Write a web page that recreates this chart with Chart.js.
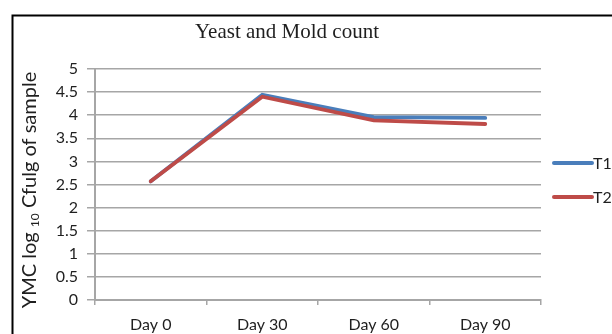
<!DOCTYPE html>
<html>
<head>
<meta charset="utf-8">
<script src="https://cdn.jsdelivr.net/npm/chart.js@4"></script>
<style>
  html, body { margin: 0; padding: 0; background: #fff; }
  #wrap { width: 612px; height: 334px; position: relative; }
</style>
</head>
<body>
<div id="wrap"><canvas id="chart" width="612" height="334"></canvas></div>
<script>
// data
const days = ["Day 0", "Day 30", "Day 60", "Day 90"];
const t1Values = [2.57, 4.44, 3.96, 3.94];
const t2Values = [2.57, 4.40, 3.89, 3.81];
const seriesNames = ["T1", "T2"];
const chartTitle = "Yeast and Mold count";

const FONT = "Lato, 'Open Sans', sans-serif";
const GRID = "#a6a6a6";
const TEXT = "#1f1f1f";

// frame, title, y title and legend are drawn by hand
const extras = {
  id: "extras",
  afterDraw(chart) {
    const ctx = chart.ctx;
    ctx.save();

    // outer frame (only top and left visible in the crop)
    ctx.strokeStyle = "#000";
    ctx.lineWidth = 2;
    ctx.beginPath();
    ctx.moveTo(12.5, 334);
    ctx.lineTo(12.5, 15.5);
    ctx.lineTo(612, 15.5);
    ctx.stroke();

    // title
    ctx.fillStyle = TEXT;
    ctx.font = "21px 'Liberation Serif', serif";
    ctx.textAlign = "center";
    ctx.textBaseline = "middle";
    ctx.fillText(chartTitle, 287, 32);

    // y axis title with subscript
    ctx.translate(30, 190);
    ctx.rotate(-Math.PI / 2);
    const big = "20px " + FONT;
    const small = "12px " + FONT;
    const parts = [["YMC log ", big, 0], ["10", small, 5], [" Cfulg of sample", big, 0]];
    let total = 0;
    parts.forEach(p => { ctx.font = p[1]; total += ctx.measureText(p[0]).width; });
    let x = -total / 2;
    ctx.textAlign = "left";
    parts.forEach(p => {
      ctx.font = p[1];
      ctx.fillText(p[0], x, p[2]);
      x += ctx.measureText(p[0]).width;
    });
    ctx.setTransform(1, 0, 0, 1, 0, 0);

    // legend
    const ys = [163, 197];
    chart.data.datasets.forEach((ds, i) => {
      ctx.strokeStyle = ds.borderColor;
      ctx.lineWidth = 4;
      ctx.lineCap = "round";
      ctx.beginPath();
      ctx.moveTo(554, ys[i]);
      ctx.lineTo(592, ys[i]);
      ctx.stroke();
      ctx.fillStyle = TEXT;
      ctx.font = "16px " + FONT;
      ctx.textAlign = "left";
      ctx.textBaseline = "middle";
      ctx.fillText(ds.label, 593, ys[i] + 1);
    });

    ctx.restore();
  }
};

new Chart(document.getElementById("chart"), {
  type: "line",
  data: {
    labels: days,
    datasets: [
      {
        label: seriesNames[0],
        data: t1Values,
        borderColor: "#4a7ebb",
        borderWidth: 3.8,
        pointRadius: 0,
        tension: 0,
        borderCapStyle: "round",
        order: 1
      },
      {
        label: seriesNames[1],
        data: t2Values,
        borderColor: "#be4b48",
        borderWidth: 3.8,
        pointRadius: 0,
        tension: 0,
        borderCapStyle: "round",
        order: 0
      }
    ]
  },
  options: {
    responsive: false,
    animation: false,
    devicePixelRatio: 1,
    layout: { padding: { left: 40, right: 71, top: 69, bottom: 0 } },
    plugins: {
      legend: { display: false },
      title: { display: false },
      tooltip: { enabled: false }
    },
    scales: {
      x: {
        offset: true,
        grid: {
          offset: true,
          drawOnChartArea: false,
          tickLength: 5,
          color: GRID,
          lineWidth: 1.5
        },
        border: { color: GRID, width: 2 },
        ticks: {
          color: TEXT,
          font: { family: FONT, size: 16 },
          padding: 10,
          maxRotation: 0
        },
        afterFit: s => { s.height = 34; }
      },
      y: {
        min: 0,
        max: 5,
        grid: {
          tickLength: 8,
          color: GRID,
          lineWidth: 1.5
        },
        border: { color: GRID, width: 2 },
        ticks: {
          stepSize: 0.5,
          color: TEXT,
          font: { family: FONT, size: 16 },
          padding: 9,
          callback: v => String(v)
        },
        afterFit: s => { s.width = 55; }
      }
    }
  },
  plugins: [extras]
});
</script>
</body>
</html>
